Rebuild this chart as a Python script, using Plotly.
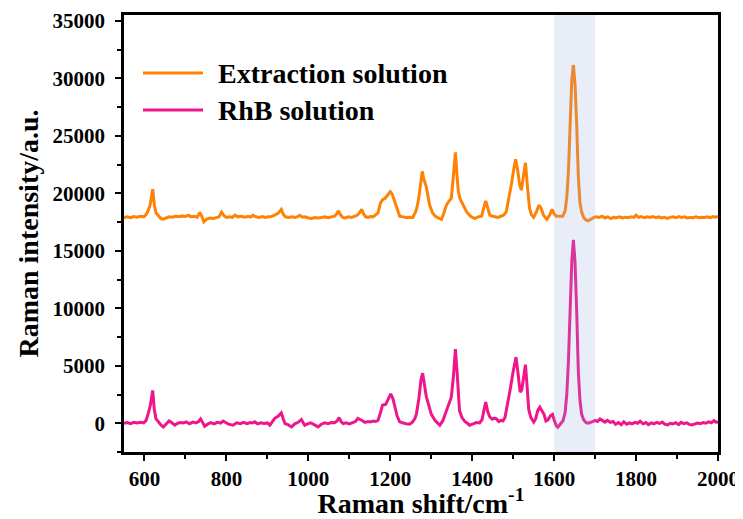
import plotly.graph_objects as go

# ---------------- data ----------------
rhb_x = [550, 558, 566, 574, 582, 590, 598, 604, 609, 614, 620, 624, 628, 634, 640, 646, 652, 660, 667, 674,
         681, 688, 695, 702, 710, 718, 726, 732, 737, 742, 747, 754, 762, 770, 778, 786, 792, 798, 805, 816,
         825, 834, 842, 850, 858, 864, 869, 876, 884, 892, 900, 906, 912, 918, 926, 934, 939, 943, 950, 959,
         967, 975, 983, 988, 991, 998, 1006, 1014, 1024, 1032, 1040, 1048, 1056, 1064, 1070, 1075, 1080, 1085,
         1092, 1100, 1108, 1115, 1121, 1126, 1130, 1138, 1145, 1152, 1158, 1164, 1170, 1176, 1181, 1189, 1195,
         1201, 1206, 1211, 1217, 1223, 1230, 1238, 1247, 1254, 1260, 1264, 1270, 1275, 1279, 1283, 1288, 1293,
         1300, 1309, 1315, 1321, 1328, 1334, 1341, 1349, 1354, 1359, 1363, 1366, 1369, 1375, 1382, 1388, 1394,
         1402, 1410, 1418, 1424, 1429, 1433, 1438, 1443, 1449, 1454, 1459, 1465, 1470, 1475, 1480, 1487, 1493,
         1500, 1507, 1512, 1517, 1521, 1526, 1530, 1534, 1538, 1543, 1550, 1555, 1560, 1565, 1570, 1575, 1580,
         1585, 1591, 1596, 1600, 1605, 1609, 1615, 1622, 1627, 1631, 1635, 1639, 1643, 1647, 1651, 1655, 1659,
         1663, 1667, 1672, 1678, 1683, 1689, 1694, 1700, 1706, 1712, 1718, 1724, 1730, 1737, 1744, 1750, 1757,
         1764, 1770, 1777, 1784, 1790, 1797, 1804, 1810, 1817, 1824, 1830, 1837, 1844, 1850, 1857, 1864, 1870,
         1877, 1884, 1890, 1897, 1904, 1910, 1917, 1924, 1930, 1937, 1944, 1950, 1957, 1964, 1970, 1977, 1984,
         1990, 1995, 2000]
rhb_y = [0, 60, -40, 80, 20, 90, 40, 250, 840, 1500, 2850, 1200, 400, 100, -150, -320, -120, 200, 40, -170,
         0, 60, 30, 120, -40, 100, 30, 150, 380, 90, -260, -80, 50, -60, 80, 20, 190, 60, -80, -170,
         40, -30, 70, -40, 60, 20, 120, -50, 40, -20, 30, -170, 100, 430, 600, 900, 350, -30, -120, -320,
         -50, 80, 320, 60, -170, -60, 40, -120, -320, -80, 40, -40, 60, 50, 200, 490, 150, -30,
         40, -60, 60, 150, 430, 350, 260, 80, 150, 120, 200, 150, 250, 900, 1570, 1650, 2100,
         2550, 2200, 1570, 600, 120, 30, -40, -90, 100, 400, 840, 2200, 3800, 4350, 3500, 2300, 1680,
         800, 260, 20, -170, 200, 800, 1650, 2260, 4000, 6450, 4500, 2200, 1100, 500, 150, 0, -170,
         -60, 60, 30, 300, 1200, 1850, 1000, 550, 350, 450, 380, 150, 250, 200, 500, 1680, 3000,
         4500, 5750, 4300, 2700, 2900, 4300, 5100, 3200, 1200, 500, 100, 400, 1100, 1400, 1100, 800, 200,
         300, 650, 770, 300, -200, -340, -100, 240, 1000, 2600, 5500, 10000, 14000, 15950, 14000, 9800, 4500,
         2000, 800, 300, 50, 0, 120, 150, 250, 150, 380, 200, 100, 250, 80, 150, -100, 60,
         -120, 120, -80, 40, -60, 80, 0, 180, -50, 60, -120, 30, -60, 80, -20, 100, -80,
         -140, 0, -60, 50, -120, 80, -40, 40, -100, -150, -60, 20, -40, 60, 0, 120, 40,
         220, 100, 120]

ext_x = [550, 558, 566, 574, 582, 590, 598, 604, 609, 614, 620, 624, 628, 634, 640, 646, 652, 660, 668, 676,
         684, 692, 700, 707, 714, 722, 729, 735, 740, 745, 752, 760, 768, 776, 782, 788, 794, 800, 808, 815,
         821, 828, 836, 844, 852, 860, 865, 872, 880, 888, 895, 902, 910, 918, 926, 934, 939, 944, 952, 960,
         968, 975, 979, 986, 992, 1000, 1008, 1016, 1024, 1032, 1040, 1048, 1056, 1064, 1069, 1073, 1078, 1084,
         1090, 1098, 1106, 1113, 1120, 1126, 1130, 1135, 1140, 1146, 1152, 1158, 1164, 1170, 1176, 1182, 1187,
         1192, 1200, 1205, 1211, 1217, 1223, 1230, 1238, 1247, 1255, 1262, 1266, 1270, 1274, 1278, 1282, 1288,
         1296, 1303, 1310, 1318, 1325, 1331, 1337, 1343, 1349, 1354, 1359, 1363, 1366, 1370, 1378, 1386, 1396,
         1406, 1414, 1423, 1428, 1433, 1438, 1443, 1450, 1457, 1463, 1470, 1477, 1483, 1490, 1496, 1501, 1506,
         1511, 1516, 1520, 1525, 1530, 1535, 1540, 1545, 1550, 1557, 1563, 1568, 1574, 1582, 1589, 1595, 1600,
         1605, 1613, 1621, 1627, 1631, 1635, 1639, 1643, 1647, 1651, 1655, 1659, 1663, 1667, 1672, 1677, 1683,
         1690, 1697, 1703, 1710, 1717, 1724, 1731, 1738, 1745, 1752, 1760, 1767, 1774, 1781, 1788, 1795, 1800,
         1806, 1813, 1820, 1827, 1834, 1841, 1848, 1855, 1862, 1869, 1876, 1883, 1890, 1897, 1904, 1911, 1918,
         1925, 1932, 1939, 1946, 1953, 1960, 1967, 1974, 1981, 1988, 1994, 2000]
ext_y = [17900, 17950, 17870, 17980, 17920, 18000, 17950, 18150, 18500, 19000, 20350, 19000, 18300, 18000, 17800,
         17750, 17850, 17950, 17920, 18000, 17950, 18020, 17980, 18100, 17950, 18000, 17920, 18330, 18000, 17520,
         17750, 17850, 17800, 17900, 17950, 18360, 18050, 17900, 17950, 17900, 18100, 17950, 18000, 17920, 17980,
         17950, 18080, 17950, 17900, 17980, 17900, 17950, 17980, 18100, 18250, 18600, 18150, 17950, 17900, 17950,
         17900, 17980, 18080, 17920, 17950, 17850, 17800, 17880, 17850, 17900, 17950, 17880, 17950, 18000, 18200,
         18470, 18150, 17900, 17850, 17950, 17900, 18000, 18100, 18350, 18600, 18200, 17950, 17900, 17980, 17950,
         18100, 18300, 19150, 19470, 19550, 19800, 20130, 19900, 19220, 18500, 18010, 17950, 17900, 17920, 17900,
         18400, 18900, 19690, 21000, 21900, 21200, 20560, 18970, 18300, 18000, 17850, 17720, 18300, 18970, 19300,
         19550, 21500, 23550, 21500, 20200, 19550, 18900, 18390, 18000, 17800, 17950, 18010, 18700, 19340, 18700,
         18100, 18000, 17950, 17900, 18000, 18100, 18390, 19600, 20850, 22000, 22950, 22000, 20700, 20280, 21500,
         22650, 20500, 18680, 18100, 17900, 18400, 18970, 18700, 18100, 17720, 18100, 18590, 18200, 18010, 18000,
         18010, 18500, 19700, 22000, 26500, 29800, 31150, 29500, 26000, 21500, 19200, 18400, 17900, 17700, 17600,
         17750, 17900, 17950, 17900, 18000, 17850, 17950, 17800, 17900, 17870, 17950, 17850, 17920, 17880, 17950,
         17900, 18100, 17900, 17980, 17870, 17950, 17900, 17980, 17880, 17950, 17850, 17900, 17820, 17900, 17950,
         17870, 17980, 17900, 17950, 17850, 17900, 17880, 17950, 17870, 17920, 17900, 17950, 17880, 17970, 17920,
         17980]

series_names = ["Extraction solution", "RhB solution"]
series_colors = ["#FF8205", "#EE168A"]
highlight_band = [1600, 1700]

x_range = [550, 2000]
y_range = [-2500, 35500]
x_ticks = [600, 800, 1000, 1200, 1400, 1600, 1800, 2000]
y_ticks = [0, 5000, 10000, 15000, 20000, 25000, 30000, 35000]

FONT = "Liberation Serif"

fig = go.Figure()
fig.add_trace(go.Scatter(x=ext_x, y=ext_y, mode="lines", name=series_names[0],
                         line=dict(color=series_colors[0], width=3), showlegend=False))
fig.add_trace(go.Scatter(x=rhb_x, y=rhb_y, mode="lines", name=series_names[1],
                         line=dict(color=series_colors[1], width=3), showlegend=False))

# highlighted band
fig.add_shape(type="rect", xref="x", yref="paper", x0=highlight_band[0], x1=highlight_band[1],
              y0=0, y1=1, fillcolor="rgba(150,170,222,0.21)", line=dict(width=0), layer="above")

# legend drawn manually (long line samples)
leg_y = [0.867, 0.7825]
for name, col, yy in zip(series_names, series_colors, leg_y):
    fig.add_shape(type="line", xref="paper", yref="paper", x0=0.032, x1=0.133, y0=yy, y1=yy,
                  line=dict(color=col, width=3))
    fig.add_annotation(xref="paper", yref="paper", x=0.155, y=yy, text="<b>%s</b>" % name,
                       showarrow=False, xanchor="left", yanchor="middle",
                       font=dict(family=FONT, size=28, color="black"))

axis_common = dict(showline=True, linecolor="black", linewidth=2.5, mirror=True,
                   ticks="outside", ticklen=6, tickwidth=2, tickcolor="black",
                   showgrid=False, zeroline=False, automargin=False,
                   tickfont=dict(family=FONT, size=21, color="black"))

fig.update_xaxes(range=x_range, tickvals=x_ticks, ticktext=["<b>%d</b>" % v for v in x_ticks],
                 minor=dict(dtick=100, tick0=0, ticks="outside", ticklen=4, tickwidth=2, tickcolor="black"),
                 title=dict(text="<b>Raman shift/cm<sup>-1</sup></b>", font=dict(family=FONT, size=28, color="black"),
                            standoff=6),
                 **axis_common)
fig.update_yaxes(range=y_range, tickvals=y_ticks, ticktext=["<b>%d</b>" % v for v in y_ticks],
                 minor=dict(dtick=2500, tick0=0, ticks="outside", ticklen=4, tickwidth=2, tickcolor="black"),
                 ticklabelstandoff=6,
                 title=dict(text="<b>Raman intensity/a.u.</b>", font=dict(family=FONT, size=28, color="black"),
                            standoff=6),
                 **axis_common)

# page body has an 8px margin: figure is placed at (8, 8) in the window
fig.update_layout(width=735, height=511, margin=dict(l=116, r=25, t=7, b=67),
                  paper_bgcolor="white", plot_bgcolor="white", showlegend=False,
                  font=dict(family=FONT, color="black"))

fig.write_html("out.html")
